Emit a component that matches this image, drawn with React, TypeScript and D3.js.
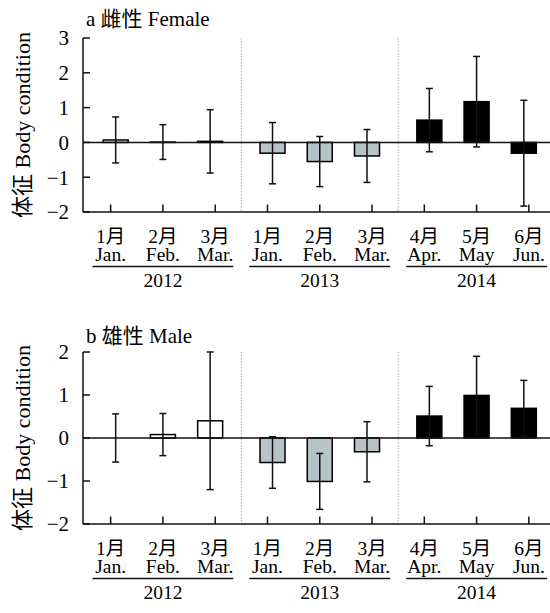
import React from 'react';
import * as d3 from 'd3';

// body condition, mean and SD per month
const monthsCn = ['1月', '2月', '3月', '1月', '2月', '3月', '4月', '5月', '6月'];
const monthsEn = ['Jan.', 'Feb.', 'Mar.', 'Jan.', 'Feb.', 'Mar.', 'Apr.', 'May', 'Jun.'];
const years = ['2012', '2013', '2014'];

const femaleMean = [0.07, 0.01, 0.03, -0.31, -0.55, -0.39, 0.64, 1.17, -0.31];
const femaleSd = [0.66, 0.5, 0.91, 0.88, 0.72, 0.76, 0.91, 1.3, 1.52];
const maleMean = [0.0, 0.08, 0.4, -0.57, -1.01, -0.32, 0.51, 0.99, 0.69];
const maleSd = [0.56, 0.49, 1.6, 0.6, 0.65, 0.7, 0.69, 0.91, 0.65];

const femaleTicks = [-2, -1, 0, 1, 2, 3];
const maleTicks = [-2, -1, 0, 1, 2];

const yearFill = ['#ffffff', '#b6c3c7', '#000000'];
const font = '"Liberation Serif", "Times New Roman", "Noto Sans CJK SC", serif';

const W = 550;
const axisX = 83;
const barW = 25;

// ticks and captions are evenly spaced; the bars sit a bit closer inside each year
const x = d3.scaleBand<number>().domain(d3.range(9)).range([84.5, 555]);
const xYear = d3.scaleBand<number>().domain(d3.range(3)).range([84.5, 555]);
const xInner = d3.scalePoint<number>().domain(d3.range(3)).range([0, xYear.bandwidth()]).padding(0.66);

const barX = (i: number) => xYear(Math.floor(i / 3))! + xInner(i % 3)!;
const tickX = (i: number) => x(i)! + x.bandwidth() / 2;

const fmt = (v: number) => (v < 0 ? '\u2212' + Math.abs(v) : String(v));

type PanelProps = {
  title: string;
  mean: number[];
  sd: number[];
  domain: [number, number];
  ticks: number[];
  top: number;
  bottom: number;
  titleY: number;
};

const Panel = ({ title, mean, sd, domain, ticks, top, bottom, titleY }: PanelProps) => {
  const y = d3.scaleLinear().domain(domain).range([bottom, top]);
  const mid = (top + bottom) / 2;

  return (
    <g>
      <text x={86} y={titleY} fontSize={21} fontFamily={font}>{title}</text>
      <text
        transform={`translate(30,${mid}) rotate(-90)`}
        textAnchor="middle"
        fontSize={22}
        fontFamily={font}
      >
        体征 Body condition
      </text>

      {/* dotted year separators */}
      {[1, 2].map(j => (
        <line
          key={j}
          x1={xYear(j)}
          x2={xYear(j)}
          y1={top}
          y2={bottom}
          stroke="#aaa"
          strokeWidth={1}
          strokeDasharray="1.5,1.5"
        />
      ))}

      {/* bars */}
      {mean.map((m, i) => (
        <rect
          key={i}
          x={barX(i) - barW / 2}
          y={Math.min(y(m), y(0))}
          width={barW}
          height={Math.abs(y(m) - y(0))}
          fill={yearFill[Math.floor(i / 3)]}
          stroke="#000"
          strokeWidth={1.5}
        />
      ))}

      {/* zero line */}
      <line x1={axisX} x2={W} y1={y(0)} y2={y(0)} stroke="#111" strokeWidth={1.5} />

      {/* error bars */}
      {mean.map((m, i) => {
        const cx = barX(i);
        const hi = y(m + sd[i]);
        const lo = y(m - sd[i]);
        return (
          <g key={i} stroke="#111" strokeWidth={1.5}>
            <line x1={cx} x2={cx} y1={hi} y2={lo} />
            <line x1={cx - 3.5} x2={cx + 3.5} y1={hi} y2={hi} />
            <line x1={cx - 3.5} x2={cx + 3.5} y1={lo} y2={lo} />
          </g>
        );
      })}

      {/* axes */}
      <line x1={axisX} x2={axisX} y1={top} y2={bottom} stroke="#111" strokeWidth={1.5} />
      <line x1={axisX} x2={W} y1={bottom} y2={bottom} stroke="#111" strokeWidth={1.5} />
      {ticks.map(t => (
        <g key={t}>
          <line x1={axisX} x2={axisX + 7} y1={y(t)} y2={y(t)} stroke="#111" strokeWidth={1.5} />
          <text
            x={69}
            y={y(t)}
            dy="0.35em"
            textAnchor="end"
            fontSize={21}
            fontFamily={font}
          >
            {fmt(t)}
          </text>
        </g>
      ))}
      {d3.range(9).map(i => (
        <line
          key={i}
          x1={tickX(i)}
          x2={tickX(i)}
          y1={bottom}
          y2={bottom - 7.5}
          stroke="#111"
          strokeWidth={1.5}
        />
      ))}

      {/* month captions */}
      {d3.range(9).map(i => (
        <g key={i} fontFamily={font} fontSize={19.5} textAnchor="middle">
          <text x={tickX(i)} y={bottom + 30.5}>{monthsCn[i]}</text>
          <text x={tickX(i)} y={bottom + 48.5}>{monthsEn[i]}</text>
        </g>
      ))}
      {years.map((yr, j) => {
        const x0 = xYear(j)! + 8;
        const x1 = xYear(j)! + xYear.bandwidth() - 8;
        return (
          <g key={yr}>
            <line x1={x0} x2={x1} y1={bottom + 54.5} y2={bottom + 54.5} stroke="#111" strokeWidth={1.5} />
            <text
              x={(x0 + x1) / 2}
              y={bottom + 74.5}
              textAnchor="middle"
              fontSize={19.5}
              fontFamily={font}
            >
              {yr}
            </text>
          </g>
        );
      })}
    </g>
  );
};

export default function App() {
  return (
    <svg
      width={W}
      height={613}
      style={{ position: 'absolute', left: 0, top: 0, background: '#fff' }}
    >
      <Panel
        title="a 雌性 Female"
        mean={femaleMean}
        sd={femaleSd}
        domain={[-2, 3]}
        ticks={femaleTicks}
        top={38}
        bottom={212}
        titleY={26}
      />
      <Panel
        title="b 雄性 Male"
        mean={maleMean}
        sd={maleSd}
        domain={[-2, 2]}
        ticks={maleTicks}
        top={352}
        bottom={524}
        titleY={343}
      />
    </svg>
  );
}
